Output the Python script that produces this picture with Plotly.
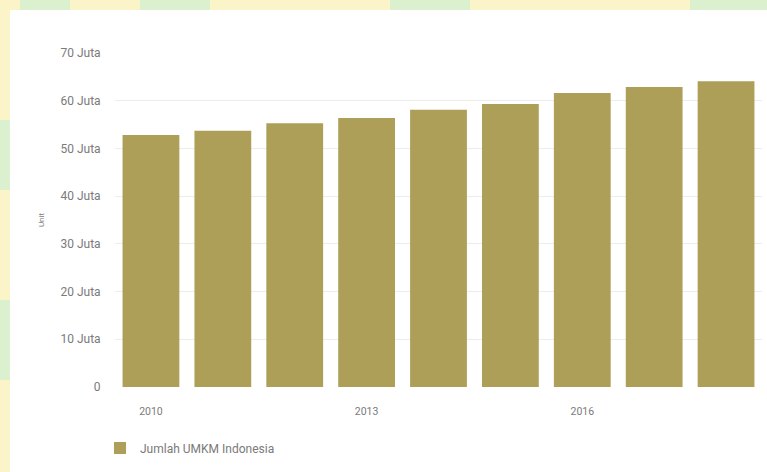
import plotly.graph_objects as go

years = [2010, 2011, 2012, 2013, 2014, 2015, 2016, 2017, 2018]
umkm_juta = [52.8, 53.7, 55.3, 56.4, 58.1, 59.3, 61.6, 62.9, 64.1]
series_name = "Jumlah UMKM Indonesia"
y_ticks = [0, 10, 20, 30, 40, 50, 60, 70]
y_tick_labels = ["0", "10 Juta", "20 Juta", "30 Juta", "40 Juta", "50 Juta", "60 Juta", "70 Juta"]
x_ticks = [2010, 2013, 2016]

W, H = 767, 472
L, R, T, B = 115, 5, 53, 85
pw, ph = W - L - R, H - T - B
TXT = "#7a7a7a"

def px_x(p):
    return (p - L) / pw

def px_y(p):
    return (H - B - p) / ph

fig = go.Figure()
fig.add_trace(go.Bar(
    x=years, y=umkm_juta, name=series_name,
    marker=dict(color="#ad9f57", line=dict(width=0)),
    showlegend=True,
))

# decorative background: pale yellow page with soft cyan streaks, white card on top
shapes = []
streaks = [(20, 70), (140, 210), (390, 470), (690, 767)]
for a, b in streaks:
    shapes.append(dict(type="rect", xref="paper", yref="paper", layer="below",
                       x0=px_x(a), x1=px_x(b), y0=px_y(10), y1=px_y(-5),
                       fillcolor="rgba(170,235,215,0.4)", line=dict(width=0)))
for a, b in [(120, 190), (300, 380)]:
    shapes.append(dict(type="rect", xref="paper", yref="paper", layer="below",
                       x0=px_x(-5), x1=px_x(10), y0=px_y(b), y1=px_y(a),
                       fillcolor="rgba(170,235,215,0.4)", line=dict(width=0)))
shapes.append(dict(type="rect", xref="paper", yref="paper", layer="below",
                   x0=px_x(10), x1=px_x(W + 5), y0=px_y(H + 5), y1=px_y(10),
                   fillcolor="white", line=dict(width=0)))

fig.update_layout(
    width=W, height=H,
    margin=dict(l=L, r=R, t=T, b=B),
    paper_bgcolor="#fbf4c8",
    plot_bgcolor="rgba(0,0,0,0)",
    bargap=0.21,
    font=dict(family="Roboto, Arial, sans-serif", size=10, color=TXT),
    shapes=shapes,
    xaxis=dict(
        tickmode="array", tickvals=x_ticks, ticktext=[str(v) for v in x_ticks],
        range=[2009.5, 2018.5], showgrid=False, zeroline=False, showline=False,
        ticks="outside", ticklen=14, tickcolor="rgba(0,0,0,0)",
        tickfont=dict(size=10.5, color=TXT),
    ),
    yaxis=dict(
        tickmode="array", tickvals=y_ticks, ticktext=y_tick_labels,
        range=[0, 70], showgrid=True, gridcolor="#ececec", gridwidth=1,
        zeroline=False, showline=False,
        ticks="outside", ticklen=11, tickcolor="rgba(0,0,0,0)",
        tickfont=dict(size=12, color=TXT),
        title=dict(text="Unit", font=dict(size=8, color=TXT), standoff=14),
    ),
    legend=dict(
        orientation="h", xref="container", yref="container",
        x=100 / W, y=(H - 448) / H, xanchor="left", yanchor="middle",
        font=dict(size=12, color=TXT), bgcolor="rgba(0,0,0,0)",
    ),
)

fig.write_html("out.html")
